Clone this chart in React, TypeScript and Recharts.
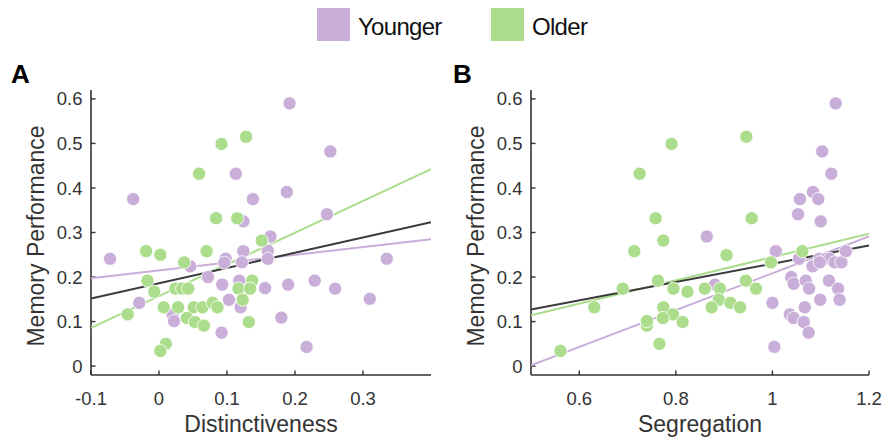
import { Scatter, ScatterChart, XAxis, YAxis } from 'recharts';

// [x, memory performance]
const youngerDistinct: number[][] = [
  [0.192, 0.59], [0.252, 0.482], [0.113, 0.432], [-0.038, 0.375], [0.138, 0.375], [0.188, 0.391],
  [0.247, 0.341], [0.124, 0.325], [0.164, 0.291], [-0.072, 0.241], [0.335, 0.241], [0.16, 0.259],
  [0.124, 0.258], [0.16, 0.241], [0.098, 0.241], [0.096, 0.232], [0.122, 0.233], [0.046, 0.224],
  [0.072, 0.2], [-0.029, 0.142], [0.093, 0.183], [0.118, 0.192], [0.103, 0.149], [0.12, 0.132],
  [0.156, 0.175], [0.19, 0.183], [0.229, 0.192], [0.259, 0.174], [0.31, 0.151], [0.18, 0.109],
  [0.217, 0.043], [0.092, 0.075], [0.02, 0.116], [0.022, 0.101],
];
const olderDistinct: number[][] = [
  [0.128, 0.515], [0.092, 0.499], [0.059, 0.432], [0.084, 0.332], [0.115, 0.332], [0.151, 0.282],
  [-0.019, 0.258], [0.002, 0.25], [0.07, 0.258], [0.037, 0.233], [-0.017, 0.192], [-0.007, 0.167],
  [0.024, 0.174], [0.034, 0.174], [0.043, 0.174], [0.117, 0.174], [0.137, 0.192], [0.134, 0.174],
  [0.123, 0.149], [-0.046, 0.116], [0.007, 0.132], [0.028, 0.132], [0.051, 0.132], [0.064, 0.132],
  [0.079, 0.142], [0.086, 0.132], [0.041, 0.108], [0.053, 0.099], [0.066, 0.091], [0.132, 0.099],
  [0.01, 0.05], [0.002, 0.034],
];
const youngerSeg: number[][] = [
  [1.131, 0.59], [1.103, 0.482], [1.122, 0.432], [1.084, 0.391], [1.057, 0.375], [1.095, 0.375],
  [1.053, 0.341], [1.1, 0.325], [0.864, 0.291], [1.007, 0.258], [1.055, 0.241], [1.097, 0.241],
  [1.112, 0.241], [1.119, 0.241], [1.129, 0.233], [1.143, 0.233], [1.152, 0.258], [1.083, 0.224],
  [1.098, 0.233], [1.039, 0.2], [1.044, 0.185], [1.069, 0.192], [1.076, 0.174], [1.117, 0.192],
  [1.136, 0.174], [1.139, 0.149], [1.099, 0.149], [1.0, 0.142], [1.067, 0.132], [1.036, 0.116],
  [1.044, 0.108], [1.065, 0.099], [1.075, 0.075], [1.004, 0.043], [0.881, 0.183],
];
const olderSeg: number[][] = [
  [0.946, 0.515], [0.791, 0.499], [0.725, 0.432], [0.758, 0.332], [0.957, 0.332], [0.774, 0.282],
  [0.714, 0.258], [0.905, 0.249], [1.062, 0.258], [0.997, 0.233], [0.69, 0.174], [0.763, 0.192],
  [0.795, 0.174], [0.824, 0.167], [0.86, 0.174], [0.891, 0.174], [0.945, 0.192], [0.966, 0.174],
  [0.631, 0.132], [0.774, 0.132], [0.889, 0.149], [0.913, 0.142], [0.933, 0.132], [0.874, 0.132],
  [0.794, 0.116], [0.74, 0.091], [0.74, 0.101], [0.773, 0.108], [0.814, 0.099], [0.766, 0.05],
  [0.561, 0.034],
];

// least-squares line end points
const fitDistinctYounger = [[-0.1, 0.197], [0.4, 0.285]];
const fitDistinctOlder = [[-0.1, 0.086], [0.4, 0.442]];
const fitDistinctAll = [[-0.1, 0.152], [0.4, 0.323]];
const fitSegYounger = [[0.5, 0.002], [1.2, 0.291]];
const fitSegOlder = [[0.5, 0.114], [1.2, 0.297]];
const fitSegAll = [[0.5, 0.127], [1.2, 0.271]];

const yTicks = [0, 0.1, 0.2, 0.3, 0.4, 0.5, 0.6];
const distinctTicks = [-0.1, 0, 0.1, 0.2, 0.3];
const segTicks = [0.6, 0.8, 1, 1.2];

const PURPLE = '#c8aed8';
const GREEN = '#acdd8c';
const AXIS = '#333333';
const FONT = '"Liberation Sans", Arial, sans-serif';

const toPts = (arr: number[][]) => arr.map(([x, y]) => ({ x, y }));

const dot = (fill: string) => (p: any) => (
  <circle cx={p.cx} cy={p.cy} r={6.6} fill={fill} stroke="#ffffff" strokeWidth={0.8} />
);

const fmt = (v: number) => String(v);

function Panel({
  left, width, marginLeft, marginRight, xDomain, xTicks, younger, older, fits,
}: {
  left: number; width: number; marginLeft: number; marginRight: number;
  xDomain: [number, number]; xTicks: number[]; younger: number[][]; older: number[][];
  fits: { data: number[][]; color: string }[];
}) {
  const tick = { fill: AXIS, fontSize: 18.5, fontFamily: FONT };
  return (
    <div style={{ position: 'absolute', left, top: 0 }}>
      <ScatterChart width={width} height={443} margin={{ top: 90, right: marginRight, bottom: 38, left: marginLeft }}>
        <XAxis
          type="number" dataKey="x" domain={xDomain} ticks={xTicks} allowDataOverflow
          height={30} tickSize={-4.5} tickMargin={21} tickFormatter={fmt} tick={tick}
          axisLine={{ stroke: AXIS, strokeWidth: 1.6 }} tickLine={{ stroke: AXIS, strokeWidth: 1.4 }}
        />
        <YAxis
          type="number" dataKey="y" domain={[-0.02, 0.62]} ticks={yTicks} allowDataOverflow
          width={40} tickSize={-4.5} tickMargin={13} tickFormatter={fmt} tick={tick}
          axisLine={{ stroke: AXIS, strokeWidth: 1.6 }} tickLine={{ stroke: AXIS, strokeWidth: 1.4 }}
        />
        {fits.map((f, i) => (
          <Scatter key={i} data={toPts(f.data)} line={{ stroke: f.color, strokeWidth: 2 }}
            shape={() => <g />} legendType="none" isAnimationActive={false} />
        ))}
        <Scatter data={toPts(younger)} shape={dot(PURPLE)} isAnimationActive={false} />
        <Scatter data={toPts(older)} shape={dot(GREEN)} isAnimationActive={false} />
      </ScatterChart>
    </div>
  );
}

export default function App() {
  return (
    <div style={{ position: 'absolute', left: 0, top: 0, width: 885, height: 443, background: '#fff', overflow: 'hidden' }}>
      <Panel
        left={0} width={440} marginLeft={51} marginRight={9}
        xDomain={[-0.1, 0.4]} xTicks={distinctTicks}
        younger={youngerDistinct} older={olderDistinct}
        fits={[
          { data: fitDistinctYounger, color: PURPLE },
          { data: fitDistinctOlder, color: GREEN },
          { data: fitDistinctAll, color: '#3a3a3a' },
        ]}
      />
      <Panel
        left={440} width={445} marginLeft={51} marginRight={16}
        xDomain={[0.5, 1.2]} xTicks={segTicks}
        younger={youngerSeg} older={olderSeg}
        fits={[
          { data: fitSegYounger, color: PURPLE },
          { data: fitSegOlder, color: GREEN },
          { data: fitSegAll, color: '#3a3a3a' },
        ]}
      />
      <svg width={885} height={443} style={{ position: 'absolute', left: 0, top: 0, pointerEvents: 'none' }}>
        <g fontFamily={FONT} fill="#000">
          <text x={11} y={83} fontSize={26} fontWeight="bold">A</text>
          <text x={453} y={83} fontSize={26} fontWeight="bold">B</text>
        </g>
        <g fontFamily={FONT} fill={AXIS} fontSize={23} textAnchor="middle">
          <text transform="translate(44,236) rotate(-90)">Memory Performance</text>
          <text transform="translate(484,236) rotate(-90)">Memory Performance</text>
          <text x={261} y={432}>Distinctiveness</text>
          <text x={700} y={432}>Segregation</text>
        </g>
        <rect x={317} y={8} width={33} height={33} fill={PURPLE} />
        <rect x={491} y={8} width={33} height={33} fill={GREEN} />
        <g fontFamily={FONT} fill="#111" fontSize={24} letterSpacing={-0.7}>
          <text x={358} y={35}>Younger</text>
          <text x={532} y={35}>Older</text>
        </g>
      </svg>
    </div>
  );
}
